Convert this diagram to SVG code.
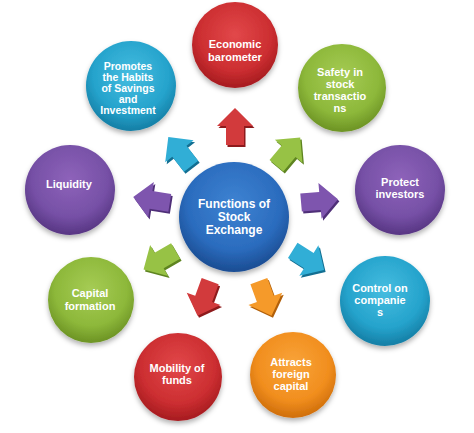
<svg xmlns="http://www.w3.org/2000/svg" xmlns:xlink="http://www.w3.org/1999/xlink" width="474" height="433" viewBox="0 0 474 433">
<defs>
<radialGradient id="gRed" cx="50%" cy="38%" r="60%"><stop offset="0" stop-color="#E2484A"/><stop offset="0.7" stop-color="#CC2E31"/><stop offset="1" stop-color="#A91D21"/></radialGradient>
<radialGradient id="gGreen" cx="50%" cy="38%" r="60%"><stop offset="0" stop-color="#A6CC55"/><stop offset="0.7" stop-color="#8DB83A"/><stop offset="1" stop-color="#6F9626"/></radialGradient>
<radialGradient id="gPurple" cx="50%" cy="38%" r="60%"><stop offset="0" stop-color="#8E63BA"/><stop offset="0.7" stop-color="#7650A6"/><stop offset="1" stop-color="#5A3886"/></radialGradient>
<radialGradient id="gCyan" cx="50%" cy="38%" r="60%"><stop offset="0" stop-color="#45BDE0"/><stop offset="0.7" stop-color="#25A3CC"/><stop offset="1" stop-color="#1681A8"/></radialGradient>
<radialGradient id="gOrange" cx="50%" cy="38%" r="60%"><stop offset="0" stop-color="#F9A43A"/><stop offset="0.7" stop-color="#F18E1E"/><stop offset="1" stop-color="#D2710C"/></radialGradient>
<radialGradient id="gBlue" cx="50%" cy="38%" r="60%"><stop offset="0" stop-color="#3E83D2"/><stop offset="0.7" stop-color="#2B6CBE"/><stop offset="1" stop-color="#1C4F96"/></radialGradient>
<filter id="sh" x="-20%" y="-20%" width="140%" height="150%"><feDropShadow dx="0" dy="3" stdDeviation="2.5" flood-color="#000" flood-opacity="0.3"/></filter>
<path id="arr" d="M0,-19 L18,-1 L9,-1 L9,18 L-9,18 L-9,-1 L-18,-1 Z"/>
</defs>
<style>
.t{font-family:"Liberation Sans",Arial,sans-serif;font-weight:bold;fill:#fff;text-anchor:middle}
.s10{font-size:10.5px}
.s11{font-size:11px}
.s12{font-size:12px}
.c{filter:url(#sh)}
</style>
<rect width="474" height="433" fill="#fff"/>
<g id="connectors">
<g transform="translate(235,127)"><use xlink:href="#arr" transform="translate(1.5,2) rotate(0)" fill="#8E1A1C"/><use xlink:href="#arr" transform="rotate(0)" fill="#D23A3C"/></g>
<g transform="translate(288,152)"><use xlink:href="#arr" transform="translate(1.5,2) rotate(40)" fill="#5E8420"/><use xlink:href="#arr" transform="rotate(40)" fill="#97C245"/></g>
<g transform="translate(319,201)"><use xlink:href="#arr" transform="translate(1.5,2) rotate(85)" fill="#4F2F78"/><use xlink:href="#arr" transform="rotate(85)" fill="#7E55AE"/></g>
<g transform="translate(308,260)"><use xlink:href="#arr" transform="translate(1.5,2) rotate(122)" fill="#136F92"/><use xlink:href="#arr" transform="rotate(122)" fill="#31AED6"/></g>
<g transform="translate(265,298)"><use xlink:href="#arr" transform="translate(1.5,2) rotate(160)" fill="#B2600A"/><use xlink:href="#arr" transform="rotate(160)" fill="#F59A2A"/></g>
<g transform="translate(204,298)"><use xlink:href="#arr" transform="translate(1.5,2) rotate(200)" fill="#8E1A1C"/><use xlink:href="#arr" transform="rotate(200)" fill="#D23A3C"/></g>
<g transform="translate(160,260)"><use xlink:href="#arr" transform="translate(1.5,2) rotate(240)" fill="#5E8420"/><use xlink:href="#arr" transform="rotate(240)" fill="#97C245"/></g>
<g transform="translate(152,200)"><use xlink:href="#arr" transform="translate(1.5,2) rotate(279)" fill="#4F2F78"/><use xlink:href="#arr" transform="rotate(279)" fill="#7E55AE"/></g>
<g transform="translate(180,152)"><use xlink:href="#arr" transform="translate(1.5,2) rotate(322)" fill="#136F92"/><use xlink:href="#arr" transform="rotate(322)" fill="#31AED6"/></g>
</g>
<g id="center">
<circle class="c" cx="234" cy="217" r="55" fill="url(#gBlue)"/>
<text class="t s12" x="234" y="208">Functions of</text>
<text class="t s12" x="234" y="221">Stock</text>
<text class="t s12" x="234" y="234">Exchange</text>
</g>
<g id="economic">
<circle class="c" cx="235" cy="45" r="43" fill="url(#gRed)"/>
<text class="t s11" x="235" y="48">Economic</text>
<text class="t s11" x="235" y="61">barometer</text>
</g>
<g id="safety">
<circle class="c" cx="342" cy="88" r="44" fill="url(#gGreen)"/>
<text class="t s11" x="340" y="76">Safety in</text>
<text class="t s11" x="340" y="88">stock</text>
<text class="t s11" x="340" y="100">transactio</text>
<text class="t s11" x="340" y="112">ns</text>
</g>
<g id="protect">
<circle class="c" cx="400" cy="190" r="45" fill="url(#gPurple)"/>
<text class="t s11" x="400" y="186">Protect</text>
<text class="t s11" x="400" y="198">investors</text>
</g>
<g id="control">
<circle class="c" cx="385" cy="301" r="45" fill="url(#gCyan)"/>
<text class="t s11" x="380" y="292">Control on</text>
<text class="t s11" x="380" y="304">companie</text>
<text class="t s11" x="380" y="316">s</text>
</g>
<g id="attracts">
<circle class="c" cx="293" cy="375" r="43" fill="url(#gOrange)"/>
<text class="t s11" x="291" y="366">Attracts</text>
<text class="t s11" x="291" y="378">foreign</text>
<text class="t s11" x="291" y="390">capital</text>
</g>
<g id="mobility">
<circle class="c" cx="178" cy="377" r="44" fill="url(#gRed)"/>
<text class="t s11" x="177" y="372">Mobility of</text>
<text class="t s11" x="177" y="384">funds</text>
</g>
<g id="capital">
<circle class="c" cx="91" cy="300" r="43" fill="url(#gGreen)"/>
<text class="t s11" x="90" y="297">Capital</text>
<text class="t s11" x="90" y="310">formation</text>
</g>
<g id="liquidity">
<circle class="c" cx="70" cy="190" r="45" fill="url(#gPurple)"/>
<text class="t s11" x="69" y="188">Liquidity</text>
</g>
<g id="promotes">
<circle class="c" cx="131" cy="86" r="45" fill="url(#gCyan)"/>
<text class="t s10" x="128" y="70">Promotes</text>
<text class="t s10" x="128" y="81">the Habits</text>
<text class="t s10" x="128" y="92">of Savings</text>
<text class="t s10" x="128" y="103">and</text>
<text class="t s10" x="128" y="114">Investment</text>
</g>
</svg>
